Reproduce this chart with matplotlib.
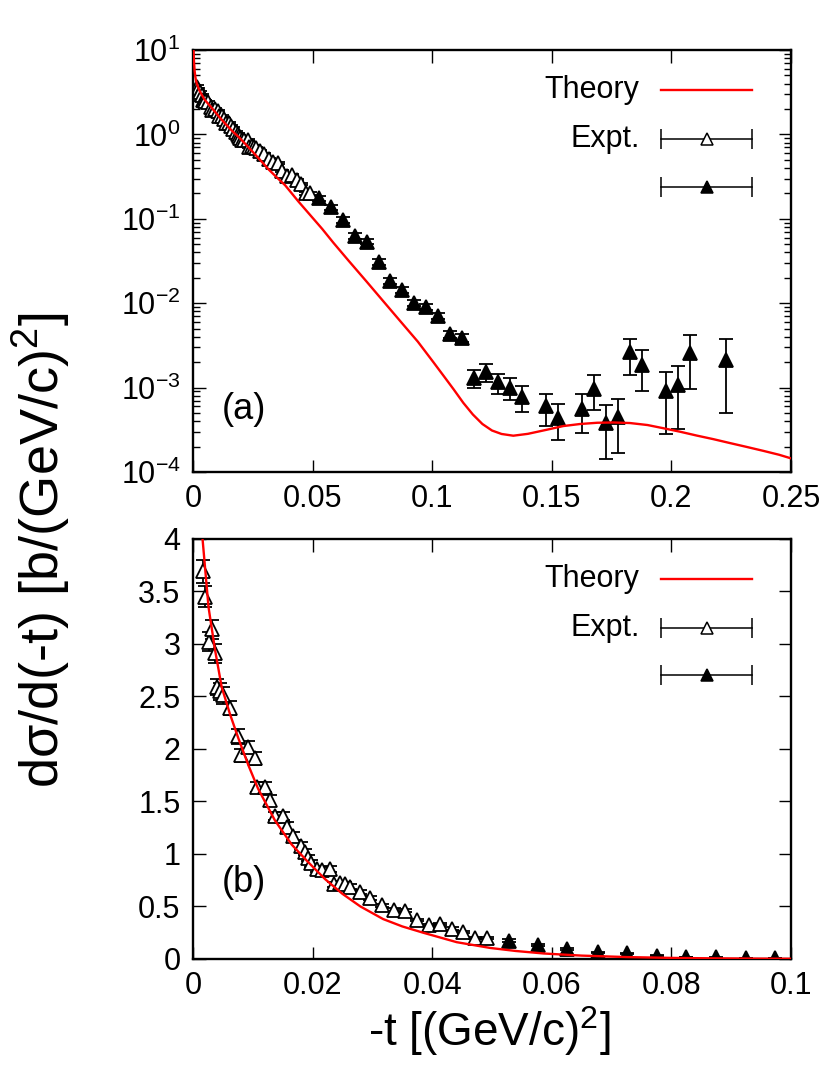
import numpy as np
import matplotlib.pyplot as plt
from matplotlib.ticker import FuncFormatter, LogLocator, NullFormatter

plt.rcParams['font.family'] = ['Liberation Sans', 'DejaVu Sans']
plt.rcParams['mathtext.fontset'] = 'custom'
plt.rcParams['mathtext.rm'] = 'Liberation Sans'
plt.rcParams['mathtext.it'] = 'Liberation Sans:italic'
plt.rcParams['mathtext.bf'] = 'Liberation Sans:bold'

# Theory curve
t_theory = [0.0002, 0.0004, 0.0007, 0.0010, 0.0013, 0.0016, 0.0026, 0.0037, 0.0048,
            0.0062, 0.0076, 0.0093, 0.0109, 0.0137, 0.0165, 0.0193, 0.0221, 0.0250,
            0.0280, 0.0318, 0.0350, 0.0385, 0.0441, 0.0497, 0.0540, 0.0587, 0.0650,
            0.0726, 0.0800, 0.0865, 0.0940, 0.1005, 0.1050, 0.1090, 0.1130, 0.1170,
            0.1210, 0.1250, 0.1290, 0.1339, 0.1400, 0.1478, 0.1548, 0.1618, 0.1690,
            0.1757, 0.1827, 0.1900, 0.1966, 0.2036, 0.2106, 0.2175, 0.2245, 0.2315,
            0.2384, 0.2450, 0.2500]
s_theory = [10.5, 7.5, 5.6, 4.8, 4.3, 4.0, 3.35, 2.94, 2.59,
            2.33, 2.10, 1.84, 1.62, 1.32, 1.09, 0.92, 0.76, 0.62,
            0.50, 0.38, 0.31, 0.25, 0.16, 0.105, 0.076, 0.052, 0.032,
            0.018, 0.0102, 0.0062, 0.0035, 0.0020, 0.00135, 0.00095, 0.00066, 0.00048,
            0.00037, 0.00031, 0.000282, 0.000269, 0.000283, 0.000316, 0.00035, 0.00037, 0.000383,
            0.000386, 0.00038, 0.00036, 0.00033, 0.0003, 0.00027, 0.000245, 0.00022, 0.000198,
            0.000178, 0.00016, 0.000145]

# Experiment, first data set (open triangles)
t_open = [0.0017, 0.0020, 0.0026, 0.0031, 0.0036, 0.0040, 0.0045, 0.0051, 0.0062,
          0.0075, 0.0081, 0.0092, 0.0104, 0.0107, 0.0120, 0.0129, 0.0137, 0.0151,
          0.0157, 0.0168, 0.0180, 0.0187, 0.0193, 0.0198, 0.0207, 0.0215, 0.0229,
          0.0235, 0.0246, 0.0254, 0.0263, 0.0279, 0.0296, 0.0316, 0.0336, 0.0355,
          0.0374, 0.0395, 0.0413, 0.0433, 0.0452, 0.0472, 0.0491]
s_open = [3.69, 3.45, 3.02, 3.14, 2.91, 2.59, 2.55, 2.51, 2.39,
          2.12, 1.94, 2.02, 1.91, 1.64, 1.64, 1.51, 1.36, 1.36,
          1.26, 1.17, 1.08, 1.02, 0.96, 0.91, 0.86, 0.85, 0.86,
          0.71, 0.72, 0.71, 0.69, 0.64, 0.58, 0.51, 0.47, 0.46,
          0.37, 0.32, 0.33, 0.29, 0.26, 0.20, 0.20]
e_open = [0.11, 0.10, 0.09, 0.09, 0.09, 0.08, 0.08, 0.08, 0.07,
          0.07, 0.06, 0.06, 0.06, 0.05, 0.05, 0.05, 0.04, 0.04,
          0.04, 0.04, 0.03, 0.03, 0.03, 0.03, 0.03, 0.03, 0.03,
          0.02, 0.02, 0.02, 0.02, 0.02, 0.02, 0.015, 0.015, 0.015,
          0.012, 0.01, 0.01, 0.01, 0.008, 0.007, 0.007]

# Experiment, second data set (filled triangles)
t_full = [0.0528, 0.0577, 0.0626, 0.0677, 0.0726, 0.0776, 0.0825, 0.0875, 0.0925,
          0.0974, 0.1026, 0.1076, 0.1126, 0.1175, 0.1225, 0.1276, 0.1325, 0.1375,
          0.1476, 0.1526, 0.1626, 0.1676, 0.1727, 0.1777, 0.1827, 0.1877, 0.1977,
          0.2027, 0.2078, 0.2228]
s_full = [0.175, 0.137, 0.0968, 0.063, 0.0537, 0.031, 0.0183, 0.0143, 0.0100,
          0.0091, 0.0071, 0.00427, 0.00389, 0.00130, 0.00152, 0.00115, 0.00100, 0.00078,
          0.00060, 0.00044, 0.00056, 0.00097, 0.00038, 0.00045, 0.00261, 0.00186, 0.00090,
          0.00107, 0.00257, 0.00215]
e_full = [0.012, 0.01, 0.007, 0.005, 0.004, 0.0025, 0.0015, 0.0012, 0.0008,
          0.0007, 0.0006, 0.0004, 0.0004, 0.00032, 0.00037, 0.00031, 0.00029, 0.00026,
          0.000245, 0.0002, 0.00027, 0.00043, 0.000236, 0.000283, 0.00119, 0.00095, 0.00062,
          0.00075, 0.0016, 0.00165]

fig = plt.figure(figsize=(8.3, 10.89), dpi=100)
ax1 = fig.add_axes([0.2325, 0.5666, 0.7205, 0.3875])
ax2 = fig.add_axes([0.2325, 0.1194, 0.7205, 0.3857])

ms = 10.5
mw = 1.3
for ax in (ax1, ax2):
    ax.plot(t_theory, s_theory, color='#ff0000', lw=1.7, zorder=3)
    ax.errorbar(t_open, s_open, yerr=e_open, fmt='^', ms=ms, mfc='white', mec='black',
                mew=mw, ecolor='black', elinewidth=mw, capsize=5, capthick=mw, zorder=2)
    ax.errorbar(t_full, s_full, yerr=e_full, fmt='^', ms=ms, mfc='black', mec='black',
                mew=mw, ecolor='black', elinewidth=mw, capsize=5, capthick=mw, zorder=2)
    for sp in ax.spines.values():
        sp.set_linewidth(1.7)
    ax.tick_params(which='both', direction='in', top=True, right=True, labelsize=22,
                   width=1.0, pad=9)
    ax.tick_params(which='major', length=9)
    ax.tick_params(which='minor', length=5)

    # legend drawn gnuplot-style
    ax.text(0.747, 0.905, 'Theory', transform=ax.transAxes, ha='right', va='center', fontsize=22)
    ax.plot([0.783, 0.935], [0.905, 0.905], color='#ff0000', lw=1.7, transform=ax.transAxes)
    ax.text(0.747, 0.789, 'Expt.', transform=ax.transAxes, ha='right', va='center', fontsize=22)
    for yy, fc in ((0.789, 'white'), (0.675, 'black')):
        ax.plot([0.783, 0.935], [yy, yy], color='black', lw=1.1, transform=ax.transAxes)
        ax.plot([0.783, 0.935], [yy, yy], ls='none', marker='|', ms=14, mew=1.1,
                color='black', transform=ax.transAxes)
        ax.plot([0.859], [yy], ls='none', marker='^', ms=9, mfc=fc, mec='black', mew=1.1,
                transform=ax.transAxes)

fmt = FuncFormatter(lambda v, p: '%g' % v)

ax1.set_yscale('log')
ax1.set_xlim(0, 0.25)
ax1.set_ylim(1e-4, 10)
ax1.set_xticks([0, 0.05, 0.1, 0.15, 0.2, 0.25])
ax1.xaxis.set_major_formatter(fmt)
ax1.yaxis.set_major_locator(LogLocator(base=10, numticks=10))
ax1.yaxis.set_minor_locator(LogLocator(base=10, subs=np.arange(2, 10), numticks=20))
ax1.yaxis.set_minor_formatter(NullFormatter())
ax1.text(0.048, 0.147, '(a)', transform=ax1.transAxes, ha='left', va='center', fontsize=26)

ax2.set_xlim(0, 0.1)
ax2.set_ylim(0, 4)
ax2.set_xticks([0, 0.02, 0.04, 0.06, 0.08, 0.1])
ax2.set_yticks([0, 0.5, 1, 1.5, 2, 2.5, 3, 3.5, 4])
ax2.xaxis.set_major_formatter(fmt)
ax2.yaxis.set_major_formatter(fmt)
ax2.text(0.048, 0.181, '(b)', transform=ax2.transAxes, ha='left', va='center', fontsize=26)

fig.text(0.05, 0.495, 'd\u03c3/d(-t) [b/(GeV/c)$^2$]', rotation=90, ha='center', va='center',
         fontsize=39)
fig.text(0.59, 0.053, '-t [(GeV/c)$^2$]', ha='center', va='center', fontsize=33)

fig.savefig('out.png', dpi=100)
